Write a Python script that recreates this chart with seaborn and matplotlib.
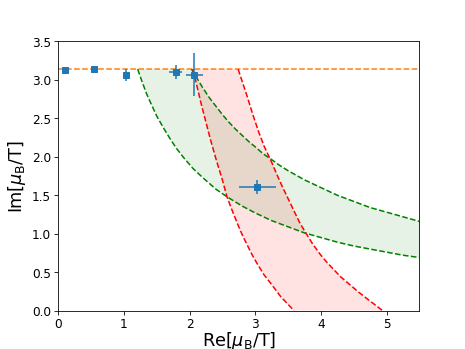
import numpy as np
import seaborn as sns
import matplotlib.pyplot as plt

# measured points
re_pts = [0.10, 0.55, 1.03, 1.79, 2.07, 3.03]
im_pts = [3.13, 3.14, 3.06, 3.10, 3.07, 1.61]
re_err = [0.0, 0.0, 0.04, 0.10, 0.13, 0.28]
im_err = [0.0, 0.0, 0.08, 0.09, 0.28, 0.09]

im_limit = 3.14

# green band (two boundaries)
green_lo_x = [1.21, 1.28, 1.35, 1.43, 1.50, 1.60, 1.70, 1.80, 1.90, 2.05, 2.20, 2.40, 2.57,
              2.80, 3.00, 3.25, 3.50, 3.75, 4.00, 4.25, 4.50, 4.75, 5.00, 5.25, 5.50]
green_lo_y = [3.14, 2.97, 2.81, 2.66, 2.53, 2.38, 2.24, 2.11, 2.00, 1.85, 1.73, 1.58, 1.48,
              1.36, 1.27, 1.17, 1.09, 1.01, 0.95, 0.89, 0.84, 0.80, 0.76, 0.72, 0.69]
green_hi_x = [2.03, 2.10, 2.20, 2.30, 2.40, 2.50, 2.60, 2.70, 2.80, 2.90, 3.00, 3.12,
              3.24, 3.37, 3.50, 3.75, 4.00, 4.25, 4.50, 4.75, 5.00, 5.25, 5.50]
green_hi_y = [3.14, 3.04, 2.90, 2.77, 2.66, 2.55, 2.45, 2.36, 2.28, 2.20, 2.13, 2.04,
              1.97, 1.89, 1.82, 1.70, 1.60, 1.50, 1.42, 1.34, 1.28, 1.22, 1.16]

# red band
red_lo_x = [2.05, 2.11, 2.18, 2.25, 2.32, 2.41, 2.50, 2.57, 2.65, 2.73, 2.80, 2.88,
            2.95, 3.03, 3.13, 3.24, 3.39, 3.59]
red_lo_y = [3.14, 2.93, 2.68, 2.45, 2.22, 1.95, 1.70, 1.48, 1.30, 1.13, 0.99, 0.85,
            0.73, 0.61, 0.47, 0.35, 0.18, 0.00]
red_hi_x = [2.74, 2.81, 2.88, 2.96, 3.05, 3.14, 3.24, 3.33, 3.42, 3.51, 3.60, 3.68,
            3.77, 3.88, 4.00, 4.10, 4.20, 4.30, 4.41, 4.56, 4.71, 4.94]
red_hi_y = [3.14, 2.96, 2.78, 2.56, 2.33, 2.13, 1.95, 1.77, 1.60, 1.44, 1.28, 1.14,
            1.01, 0.86, 0.72, 0.62, 0.53, 0.44, 0.36, 0.25, 0.15, 0.00]

fig, ax = plt.subplots(figsize=(6.4, 4.8))

ax.axhline(im_limit, color='C1', ls='--', lw=1.5)

ax.fill(green_lo_x + green_hi_x[::-1], green_lo_y + green_hi_y[::-1],
        color='g', alpha=0.1, lw=0)
ax.fill(red_lo_x + red_hi_x[::-1], red_lo_y + red_hi_y[::-1],
        color='r', alpha=0.11, lw=0)

for xs, ys, c in [(green_lo_x, green_lo_y, 'g'), (green_hi_x, green_hi_y, 'g'),
                  (red_lo_x, red_lo_y, 'r'), (red_hi_x, red_hi_y, 'r')]:
    sns.lineplot(x=xs, y=ys, sort=False, color=c, linestyle='--', lw=1.5, ax=ax)

ax.errorbar(re_pts, im_pts, xerr=re_err, yerr=im_err, fmt='s', color='C0',
            ms=6.5, elinewidth=1.5)

ax.set_xlim(0, 5.5)
ax.set_ylim(0, 3.5)
ax.tick_params(labelsize=12)
ax.set_xlabel(r'Re[$\mu_\mathrm{B}/\mathrm{T}$]', fontsize=17.5, labelpad=-1)
ax.set_ylabel(r'Im[$\mu_\mathrm{B}/\mathrm{T}$]', fontsize=17.5)

plt.savefig('out.png', dpi=72.8)
